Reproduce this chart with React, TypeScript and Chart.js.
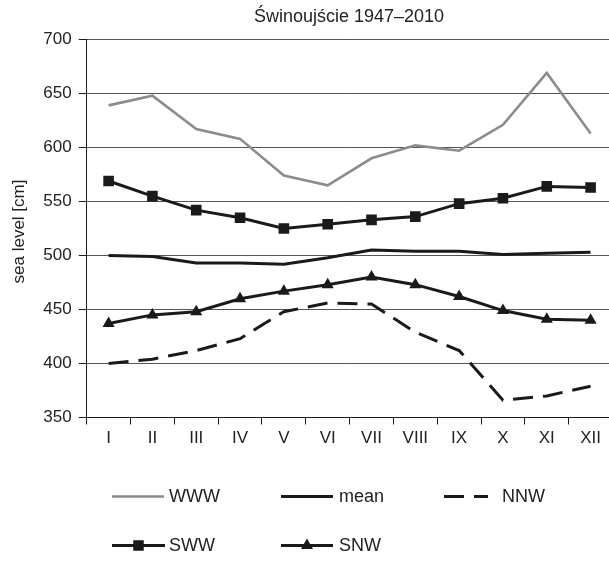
import React, { useEffect, useRef } from 'react';
import { Chart, registerables } from 'chart.js';

Chart.register(...registerables);

// ---- data ----
const months = ['I', 'II', 'III', 'IV', 'V', 'VI', 'VII', 'VIII', 'IX', 'X', 'XI', 'XII'];
const www = [639, 648, 617, 608, 574, 565, 590, 602, 597, 621, 669, 613];
const meanLevel = [500, 499, 493, 493, 492, 498, 505, 504, 504, 501, 502, 503];
const nnw = [400, 404, 412, 423, 448, 456, 455, 429, 412, 366, 370, 379];
const sww = [569, 555, 542, 535, 525, 529, 533, 536, 548, 553, 564, 563];
const snw = [437, 445, 448, 460, 467, 473, 480, 473, 462, 449, 441, 440];
const seriesNames = ['WWW', 'mean', 'NNW', 'SWW', 'SNW'];
const Y_MIN = 350;
const Y_MAX = 700;
const Y_STEP = 50;
const TITLE = 'Świnoujście 1947–2010';
const Y_TITLE = 'sea level [cm]';

const FONT = '"Liberation Sans", Arial, Helvetica, sans-serif';
const TEXT = '#222';
const BLACK = '#1a1a1a';
const GREY = '#8c8c8c';

// legend layout: [lineStartX, lineEndX, y, textX]
const LEGEND_POS = [
  [112, 164, 496.5, 169],
  [281, 333, 496.5, 339],
  [444, 488, 496.5, 502],
  [112, 165, 545.5, 169],
  [281, 333, 545.5, 339],
];

const overlay = {
  id: 'overlay',
  afterDraw(chart: any) {
    const ctx = chart.ctx as CanvasRenderingContext2D;
    ctx.save();
    ctx.fillStyle = TEXT;
    ctx.textAlign = 'center';
    ctx.textBaseline = 'middle';
    ctx.font = `18px ${FONT}`;
    ctx.fillText(TITLE, 349, 17.5);

    ctx.save();
    ctx.translate(19, 231.5);
    ctx.rotate(-Math.PI / 2);
    ctx.font = `17px ${FONT}`;
    ctx.fillText(Y_TITLE, 0, 0);
    ctx.restore();

    chart.data.datasets.forEach((ds: any, i: number) => {
      const [x0, x1, y, tx] = LEGEND_POS[i];
      ctx.save();
      ctx.strokeStyle = ds.borderColor;
      ctx.lineWidth = ds.borderWidth;
      ctx.setLineDash(ds.borderDash || []);
      ctx.beginPath();
      ctx.moveTo(x0, y);
      ctx.lineTo(x1, y);
      ctx.stroke();
      ctx.setLineDash([]);
      const cx = (x0 + x1) / 2;
      ctx.fillStyle = ds.borderColor;
      if (ds.pointStyle === 'rect') {
        const s = 10.5;
        ctx.fillRect(cx - s / 2, y - s / 2, s, s);
      } else if (ds.pointStyle === 'triangle') {
        const r = 7;
        ctx.beginPath();
        ctx.moveTo(cx, y - r);
        ctx.lineTo(cx + r * Math.sin(Math.PI / 3), y + r / 2);
        ctx.lineTo(cx - r * Math.sin(Math.PI / 3), y + r / 2);
        ctx.closePath();
        ctx.fill();
      }
      ctx.fillStyle = TEXT;
      ctx.font = `18px ${FONT}`;
      ctx.textAlign = 'left';
      ctx.textBaseline = 'middle';
      ctx.fillText(ds.label, tx, y + 1);
      ctx.restore();
    });
    ctx.restore();
  },
};

export default function App() {
  const ref = useRef<HTMLCanvasElement | null>(null);

  useEffect(() => {
    if (!ref.current) return;
    const chart = new Chart(ref.current, {
      type: 'line',
      data: {
        labels: months,
        datasets: [
          {
            label: seriesNames[0],
            data: www,
            borderColor: GREY,
            backgroundColor: GREY,
            borderWidth: 2.6,
            pointRadius: 0,
            tension: 0,
          },
          {
            label: seriesNames[1],
            data: meanLevel,
            borderColor: BLACK,
            backgroundColor: BLACK,
            borderWidth: 3,
            pointRadius: 0,
            tension: 0,
          },
          {
            label: seriesNames[2],
            data: nnw,
            borderColor: BLACK,
            backgroundColor: BLACK,
            borderWidth: 3,
            borderDash: [20, 10],
            pointRadius: 0,
            tension: 0,
          },
          {
            label: seriesNames[3],
            data: sww,
            borderColor: BLACK,
            backgroundColor: BLACK,
            borderWidth: 3,
            pointStyle: 'rect',
            pointRadius: 7.5,
            pointBorderWidth: 0,
            pointBackgroundColor: BLACK,
            tension: 0,
          },
          {
            label: seriesNames[4],
            data: snw,
            borderColor: BLACK,
            backgroundColor: BLACK,
            borderWidth: 3,
            pointStyle: 'triangle',
            pointRadius: 7,
            pointBorderWidth: 0,
            pointBackgroundColor: BLACK,
            tension: 0,
          },
        ],
      },
      options: {
        responsive: false,
        animation: false,
        devicePixelRatio: 1,
        layout: { padding: { top: 39.5, left: 0, right: 620 - 614.7, bottom: 113.5 } },
        plugins: {
          legend: { display: false },
          title: { display: false },
          tooltip: { enabled: false },
        },
        scales: {
          x: {
            type: 'category',
            offset: true,
            afterFit: (scale: any) => {
              scale.height = 30;
            },
            grid: {
              drawOnChartArea: false,
              drawTicks: true,
              tickLength: 7,
              color: BLACK,
              offset: true,
            },
            border: { display: true, color: BLACK, width: 1 },
            ticks: {
              color: TEXT,
              font: { family: FONT, size: 17 },
              padding: 4,
              maxRotation: 0,
              autoSkip: false,
            },
          },
          y: {
            min: Y_MIN,
            max: Y_MAX,
            afterFit: (scale: any) => {
              scale.width = 86.7;
            },
            grid: {
              color: '#555',
              lineWidth: 1,
              tickLength: 8,
              tickColor: BLACK,
            },
            border: { display: true, color: BLACK, width: 1 },
            ticks: {
              stepSize: Y_STEP,
              color: TEXT,
              font: { family: FONT, size: 17 },
              padding: 7,
            },
          },
        },
      },
      plugins: [overlay],
    });
    return () => chart.destroy();
  }, []);

  return (
    <div
      style={{
        position: 'fixed',
        left: 0,
        top: 0,
        width: 609,
        height: 561,
        overflow: 'hidden',
        background: '#fff',
      }}
    >
      <canvas ref={ref} width={620} height={561} style={{ display: 'block' }} />
    </div>
  );
}
